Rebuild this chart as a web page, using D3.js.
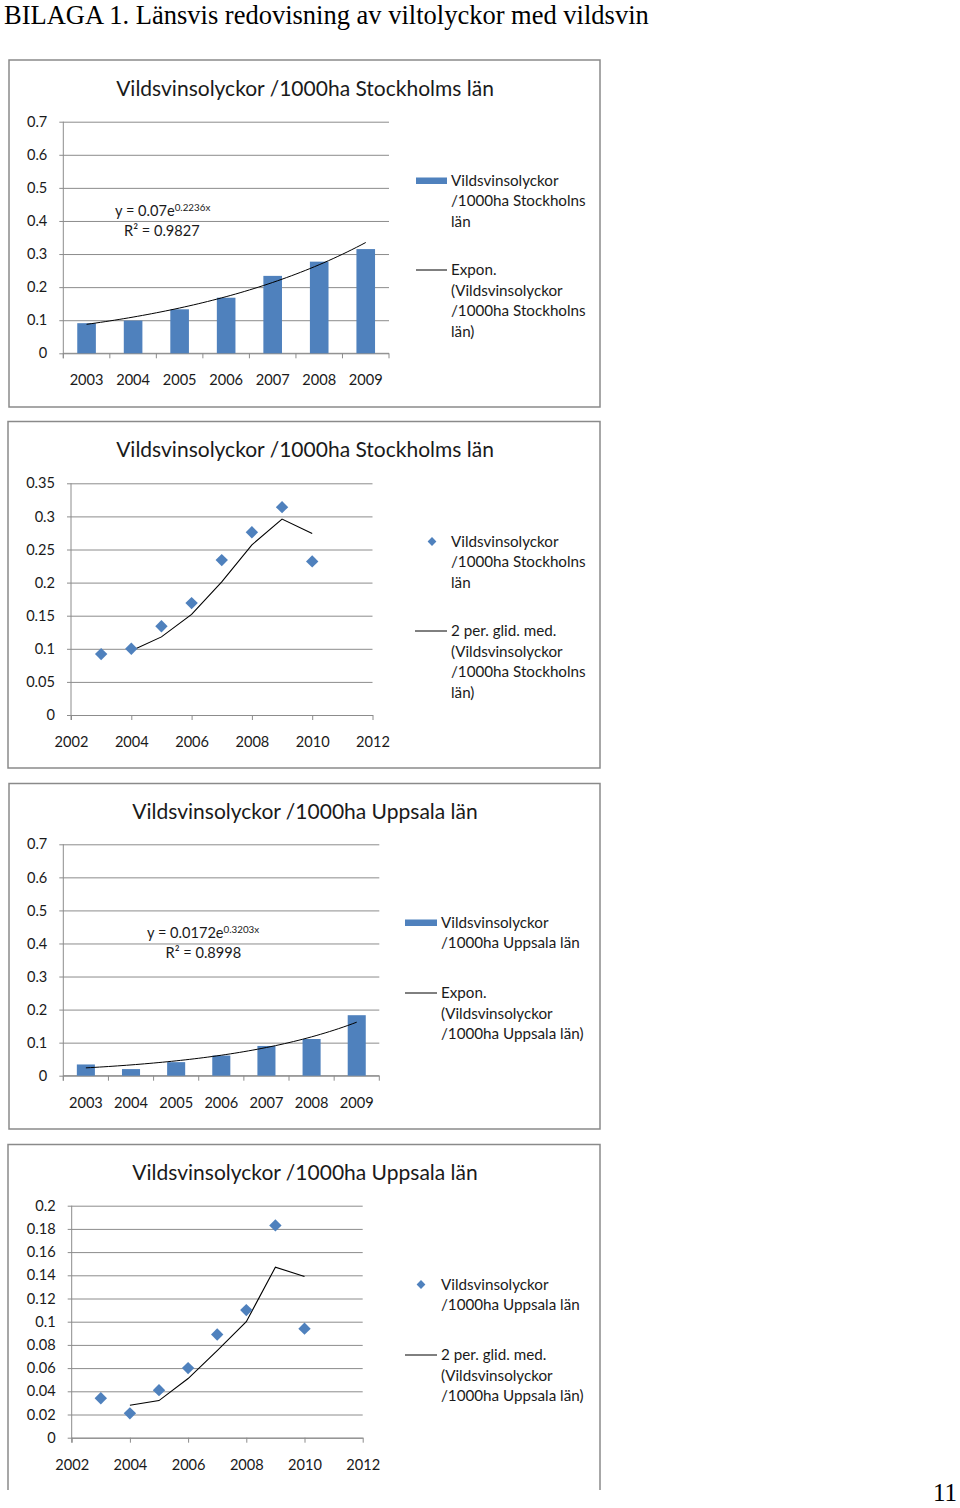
<!DOCTYPE html>
<html><head><meta charset="utf-8">
<script src="https://cdn.jsdelivr.net/npm/d3@7"></script>
<style>body{margin:0;background:#fff} svg{display:block}</style>
</head><body><svg id="c" width="960" height="1508"></svg>
<script>
// ---------------- DATA ----------------
const headerText = "BILAGA 1. Länsvis redovisning av viltolyckor med vildsvin";
const pageNumber = "11";
const titleStockholm = "Vildsvinsolyckor /1000ha Stockholms län";
const titleUppsala = "Vildsvinsolyckor /1000ha Uppsala län";

const barYears = [2003, 2004, 2005, 2006, 2007, 2008, 2009];
const stockholmBars = [0.091, 0.099, 0.133, 0.168, 0.234, 0.277, 0.315];
const uppsalaBars = [0.034, 0.020, 0.041, 0.061, 0.090, 0.111, 0.183];

const stockholmTrend = [0.07, 0.2236];   // y = a * e^(b x)
const uppsalaTrend = [0.0172, 0.3203];
const stockholmEq = ["y = 0.07e", "0.2236x", "R² = 0.9827"];
const uppsalaEq = ["y = 0.0172e", "0.3203x", "R² = 0.8998"];

const pointYears = [2003, 2004, 2005, 2006, 2007, 2008, 2009, 2010];
const stockholmPoints = [0.092, 0.100, 0.134, 0.169, 0.234, 0.276, 0.314, 0.232];
const uppsalaPoints = [0.034, 0.021, 0.041, 0.060, 0.089, 0.110, 0.183, 0.094];

const maYears = [2004, 2005, 2006, 2007, 2008, 2009, 2010];
const stockholmMA = [0.097, 0.118, 0.152, 0.201, 0.257, 0.296, 0.274];
const uppsalaMA = [0.028, 0.032, 0.051, 0.075, 0.100, 0.147, 0.139];

const barYTicks = [0, 0.1, 0.2, 0.3, 0.4, 0.5, 0.6, 0.7];
const stockholmPointYTicks = [0, 0.05, 0.1, 0.15, 0.2, 0.25, 0.3, 0.35];
const uppsalaPointYTicks = [0, 0.02, 0.04, 0.06, 0.08, 0.1, 0.12, 0.14, 0.16, 0.18, 0.2];
const pointXTicks = [2002, 2004, 2006, 2008, 2010, 2012];

const legendBarStockholm = ["Vildsvinsolyckor", "/1000ha Stockholns", "län"];
const legendExpStockholm = ["Expon.", "(Vildsvinsolyckor", "/1000ha Stockholns", "län)"];
const legendPtStockholm = ["Vildsvinsolyckor", "/1000ha Stockholns", "län"];
const legendMAStockholm = ["2 per. glid. med.", "(Vildsvinsolyckor", "/1000ha Stockholns", "län)"];
const legendBarUppsala = ["Vildsvinsolyckor", "/1000ha Uppsala län"];
const legendExpUppsala = ["Expon.", "(Vildsvinsolyckor", "/1000ha Uppsala län)"];
const legendPtUppsala = ["Vildsvinsolyckor", "/1000ha Uppsala län"];
const legendMAUppsala = ["2 per. glid. med.", "(Vildsvinsolyckor", "/1000ha Uppsala län)"];

// ---------------- STYLE ----------------
const FONT = "Lato, 'Open Sans', sans-serif";
const GRID = "#8c8c8c";
const FRAME = "#8a8a8a";
const BLUE = "#4f81bd";
const TXT = "#1a1a1a";
const svg = d3.select("#c");
const fmt = d => String(+d.toFixed(2));

svg.append("text").attr("x", 4).attr("y", 24)
  .attr("font-family", "'Liberation Serif','Times New Roman',serif")
  .attr("font-size", 26.5).attr("fill", "#000").text(headerText);
svg.append("text").attr("x", 957).attr("y", 1501).attr("text-anchor", "end")
  .attr("font-family", "'Liberation Serif','Times New Roman',serif")
  .attr("font-size", 25).attr("fill", "#000").text(pageNumber);

function frame(x0, y0, x1, y1, closed) {
  const p = closed
    ? `M${x0},${y0}H${x1}V${y1}H${x0}Z`
    : `M${x0},${y1}V${y0}H${x1}V${y1}`;
  svg.append("path").attr("d", p).attr("fill", "none")
    .attr("stroke", FRAME).attr("stroke-width", 1.5);
}

function title(text, cx, baseline) {
  svg.append("text").attr("x", cx).attr("y", baseline).attr("text-anchor", "middle")
    .attr("font-family", FONT).attr("font-size", 21).attr("fill", TXT).text(text);
}

function yAxis(y, ticks, left, right) {
  const g = svg.append("g").attr("transform", `translate(${left - 4},0)`)
    .call(d3.axisLeft(y).tickValues(ticks).tickFormat(fmt)
      .tickSizeInner(-(right - left + 4)).tickSizeOuter(0).tickPadding(12));
  g.select(".domain").remove();
  g.selectAll("line").attr("stroke", GRID).attr("stroke-width", 1);
  g.selectAll("text").attr("font-family", FONT).attr("font-size", 14.6).attr("fill", TXT);
  svg.append("line").attr("x1", left).attr("x2", left)
    .attr("y1", y.range()[1]).attr("y2", y.range()[0] + 5)
    .attr("stroke", GRID);
}

function legendText(x, centers, lines) {
  lines.forEach((t, i) => {
    svg.append("text").attr("x", x).attr("y", centers[0] + i * 20.4)
      .attr("dy", "0.35em").attr("font-family", FONT).attr("font-size", 15.2)
      .attr("fill", TXT).text(t);
  });
}

function diamond(r) { return `M0,${-r}L${r},0L0,${r}L${-r},0Z`; }

function barChart(cfg) {
  const { left, right, top, bottom } = cfg.plot;
  const x = d3.scaleBand().domain(barYears).range([left, right])
    .paddingInner(0.6).paddingOuter(0.3);
  const y = d3.scaleLinear().domain([0, 0.7]).range([bottom, top]);
  yAxis(y, barYTicks, left, right);
  // category boundary ticks
  const step = x.step();
  const bounds = barYears.map(d => x(d) - step * 0.3).concat([right]);
  svg.append("g").selectAll("line").data(bounds).join("line")
    .attr("x1", d => d).attr("x2", d => d).attr("y1", bottom).attr("y2", bottom + 5)
    .attr("stroke", GRID);
  const gx = svg.append("g").attr("transform", `translate(0,${bottom})`)
    .call(d3.axisBottom(x).tickSize(0));
  gx.select(".domain").attr("stroke", GRID).attr("d", `M${left},0H${right}`);
  gx.selectAll("text").attr("font-family", FONT).attr("font-size", 14.6)
    .attr("fill", TXT).attr("y", 32).attr("dy", 0);
  // bars
  svg.append("g").selectAll("rect").data(cfg.values).join("rect")
    .attr("x", (d, i) => x(barYears[i])).attr("width", x.bandwidth())
    .attr("y", d => y(d)).attr("height", d => bottom - y(d)).attr("fill", BLUE);
  // exponential trend line (from the chart's own fitted equation)
  const xi = d3.scaleLinear().domain([1, barYears.length])
    .range([x(barYears[0]) + x.bandwidth() / 2, x(barYears[barYears.length - 1]) + x.bandwidth() / 2]);
  const [a, b] = cfg.trend;
  const pts = d3.range(1, barYears.length + 0.001, 0.1).map(t => [xi(t), y(a * Math.exp(b * t))]);
  svg.append("path").attr("d", d3.line()(pts)).attr("fill", "none")
    .attr("stroke", "#000").attr("stroke-width", 1);
  // equation
  const e = cfg.eq;
  const t1 = svg.append("text").attr("x", e.x).attr("y", e.y)
    .attr("font-family", FONT).attr("font-size", 14.6).attr("fill", TXT);
  t1.append("tspan").text(cfg.eqText[0]);
  t1.append("tspan").attr("font-size", 9.8).attr("dy", -5).text(cfg.eqText[1]);
  svg.append("text").attr("x", e.x2).attr("y", e.y + 20)
    .attr("font-family", FONT).attr("font-size", 14.6).attr("fill", TXT).text(cfg.eqText[2]);
  // legend
  const L = cfg.legend;
  svg.append("rect").attr("x", L.x0).attr("y", L.c1 - 3).attr("width", L.x1 - L.x0)
    .attr("height", 6.5).attr("fill", BLUE);
  legendText(L.tx, [L.c1], L.lines1);
  svg.append("line").attr("x1", L.x0).attr("x2", L.x1).attr("y1", L.c2).attr("y2", L.c2)
    .attr("stroke", "#000").attr("stroke-width", 1);
  legendText(L.tx, [L.c2], L.lines2);
}

function pointChart(cfg) {
  const { left, right, top, bottom } = cfg.plot;
  const x = d3.scaleLinear().domain([2002, 2012]).range([left, right]);
  const yt = cfg.yTicks;
  const y = d3.scaleLinear().domain([0, yt[yt.length - 1]]).range([bottom, top]);
  yAxis(y, yt, left, right);
  const gx = svg.append("g").attr("transform", `translate(0,${bottom})`)
    .call(d3.axisBottom(x).tickValues(pointXTicks).tickFormat(d3.format("d"))
      .tickSize(5).tickSizeOuter(0));
  gx.select(".domain").attr("stroke", GRID);
  gx.selectAll("line").attr("stroke", GRID);
  gx.selectAll("text").attr("font-family", FONT).attr("font-size", 14.6)
    .attr("fill", TXT).attr("y", 32).attr("dy", 0);
  // moving average
  svg.append("path").attr("d", d3.line().x((d, i) => x(maYears[i])).y(d => y(d))(cfg.ma))
    .attr("fill", "none").attr("stroke", "#000").attr("stroke-width", 1.1);
  // points
  svg.append("g").selectAll("path").data(cfg.values).join("path")
    .attr("transform", (d, i) => `translate(${x(pointYears[i])},${y(d)})`)
    .attr("d", diamond(6.2)).attr("fill", BLUE);
  // legend
  const L = cfg.legend;
  svg.append("path").attr("transform", `translate(${L.dx},${L.c1})`)
    .attr("d", diamond(4.4)).attr("fill", BLUE);
  legendText(L.tx, [L.c1], L.lines1);
  svg.append("line").attr("x1", L.x0).attr("x2", L.x1).attr("y1", L.c2).attr("y2", L.c2)
    .attr("stroke", "#000").attr("stroke-width", 1);
  legendText(L.tx, [L.c2], L.lines2);
}

// ---------------- CHART 1 ----------------
frame(9, 60, 600, 407, true);
title(titleStockholm, 305, 96);
barChart({
  plot: { left: 63.3, right: 389, top: 121.7, bottom: 353.3 },
  values: stockholmBars, trend: stockholmTrend, eqText: stockholmEq,
  eq: { x: 115, y: 216, x2: 124 },
  legend: { x0: 416, x1: 447, tx: 451, c1: 180.5, c2: 270,
    lines1: legendBarStockholm, lines2: legendExpStockholm }
});

// ---------------- CHART 2 ----------------
frame(8, 421.5, 600, 768, true);
title(titleStockholm, 305, 457);
pointChart({
  plot: { left: 71, right: 372.5, top: 483.3, bottom: 715 },
  yTicks: stockholmPointYTicks, values: stockholmPoints, ma: stockholmMA,
  legend: { dx: 432, x0: 415, x1: 447, tx: 451, c1: 541.5, c2: 631,
    lines1: legendPtStockholm, lines2: legendMAStockholm }
});

// ---------------- CHART 3 ----------------
frame(9, 783.5, 600, 1129, true);
title(titleUppsala, 305, 818.5);
barChart({
  plot: { left: 63.3, right: 379.3, top: 844.3, bottom: 1075.7 },
  values: uppsalaBars, trend: uppsalaTrend, eqText: uppsalaEq,
  eq: { x: 147, y: 938, x2: 165.5 },
  legend: { x0: 405, x1: 437, tx: 441, c1: 922.5, c2: 993,
    lines1: legendBarUppsala, lines2: legendExpUppsala }
});

// ---------------- CHART 4 ----------------
frame(8, 1144.5, 600, 1490, false);
title(titleUppsala, 305, 1179.5);
pointChart({
  plot: { left: 71.7, right: 362.7, top: 1205.7, bottom: 1437.7 },
  yTicks: uppsalaPointYTicks, values: uppsalaPoints, ma: uppsalaMA,
  legend: { dx: 421, x0: 405, x1: 437, tx: 441, c1: 1284.5, c2: 1355,
    lines1: legendPtUppsala, lines2: legendMAUppsala }
});
</script></body></html>
